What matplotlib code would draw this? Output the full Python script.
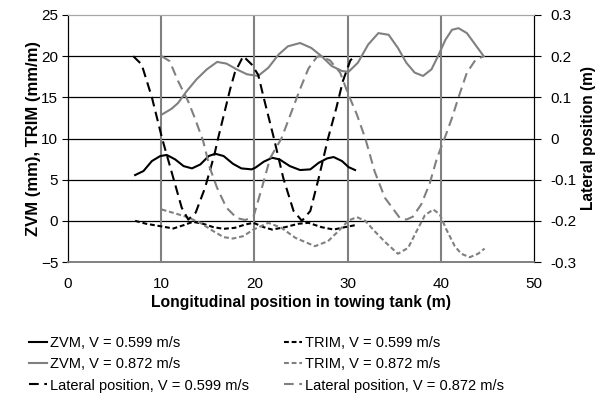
import matplotlib
matplotlib.use("Agg")
import matplotlib.pyplot as plt

plt.rcParams['font.family'] = ['Liberation Sans', 'DejaVu Sans']
plt.rcParams['lines.scale_dashes'] = False

# ZVM and TRIM (left axis)
zvm1_x = [7.2, 8.1, 9.0, 9.9, 10.6, 11.5, 12.4, 13.3, 14.2, 15.1, 15.8, 16.7, 17.7, 18.6, 19.7,
          20.1, 21.0, 21.9, 22.7, 23.8, 24.9, 26.0, 26.9, 27.8, 28.5, 29.4, 30.1, 30.8]
zvm1_y = [5.56, 6.05, 7.26, 7.87, 8.0, 7.46, 6.65, 6.37, 6.85, 7.87, 8.15, 7.87, 6.93, 6.37, 6.25,
          6.45, 7.18, 7.66, 7.46, 6.65, 6.17, 6.25, 7.05, 7.58, 7.75, 7.26, 6.53, 6.17]

zvm2_x = [10.05, 11.1, 11.8, 12.7, 13.8, 14.9, 16.0, 17.0, 18.1, 19.2, 20.4, 21.5, 22.6, 23.6,
          24.9, 26.1, 27.2, 28.3, 29.4, 30.1, 31.1, 32.2, 33.3, 34.4, 35.4, 36.3, 37.2, 38.1,
          39.0, 39.7, 40.5, 41.2, 41.9, 42.8, 43.7, 44.6]
zvm2_y = [12.9, 13.6, 14.3, 15.7, 17.2, 18.4, 19.3, 19.1, 18.4, 17.8, 17.6, 18.6, 20.2, 21.2,
          21.6, 21.0, 20.0, 18.8, 18.2, 18.1, 19.2, 21.4, 22.8, 22.6, 21.0, 19.2, 18.0, 17.6,
          18.4, 20.0, 22.0, 23.2, 23.4, 22.8, 21.4, 20.0]

trim1_x = [7.2, 8.4, 9.9, 11.3, 12.4, 13.4, 14.5, 15.6, 16.7, 17.9, 19.0, 19.9, 21.0, 21.9,
           23.3, 24.7, 25.8, 27.2, 28.5, 29.7, 30.8]
trim1_y = [0.0, -0.36, -0.65, -0.93, -0.53, -0.12, -0.36, -0.77, -0.97, -0.85, -0.45, -0.24,
           -0.77, -1.06, -0.77, -0.36, -0.24, -0.77, -1.06, -0.77, -0.53]

trim2_x = [10.05, 11.3, 12.7, 14.2, 15.6, 16.7, 17.7, 18.8, 19.9, 21.5, 22.9, 24.4, 26.5, 27.9,
           29.0, 30.1, 31.0, 31.9, 32.9, 34.0, 35.4, 36.5, 37.4, 38.3, 39.2, 39.9, 40.6, 41.5,
           42.2, 43.1, 44.0, 44.7]
trim2_y = [1.38, 0.97, 0.49, -0.24, -1.26, -1.98, -2.15, -1.86, -1.06, -0.24, -0.85, -2.07,
           -3.08, -2.47, -1.26, 0.04, 0.45, 0.0, -1.26, -2.55, -4.0, -3.28, -1.26, 0.69, 1.38,
           0.77, -1.06, -3.08, -4.0, -4.42, -4.0, -3.37]

# Lateral position (right axis)
lat1_x = [7.0, 7.9, 9.0, 10.1, 11.3, 12.2, 12.9, 13.7, 14.7, 15.7, 16.1, 17.4, 17.9, 18.8, 19.7,
          20.4, 21.1, 22.1, 23.1, 24.2, 25.1, 26.0, 26.9, 27.9, 28.8, 29.5, 30.3, 30.8]
lat1_y = [0.20, 0.18, 0.10, 0.0, -0.096, -0.168, -0.197, -0.18, -0.12, -0.04, 0.0, 0.12, 0.16,
          0.20, 0.18, 0.155, 0.09, 0.0, -0.096, -0.176, -0.20, -0.176, -0.096, 0.0, 0.075, 0.14,
          0.19, 0.20]

lat2_x = [10.05, 10.9, 11.8, 12.9, 13.6, 14.5, 15.2, 16.0, 17.0, 18.1, 19.0, 19.9, 20.8, 21.7,
          22.9, 24.0, 24.9, 25.8, 26.7, 27.0, 28.1, 29.2, 30.1, 31.0, 31.9, 32.9, 34.0, 35.6,
          36.3, 37.0, 37.9, 38.8, 39.6, 40.4, 41.2, 41.9, 42.8, 43.7, 44.6]
lat2_y = [0.20, 0.188, 0.14, 0.09, 0.05, -0.006, -0.07, -0.12, -0.168, -0.193, -0.198, -0.19,
          -0.12, -0.047, 0.0, 0.066, 0.12, 0.17, 0.198, 0.20, 0.19, 0.16, 0.106, 0.058, 0.0,
          -0.08, -0.144, -0.193, -0.197, -0.19, -0.16, -0.11, -0.047, 0.0, 0.05, 0.10, 0.16,
          0.19, 0.20]

labels = ['ZVM, V = 0.599 m/s', 'ZVM, V = 0.872 m/s', 'Lateral position, V = 0.599 m/s',
          'TRIM, V = 0.599 m/s', 'TRIM, V = 0.872 m/s', 'Lateral position, V = 0.872 m/s']

black = '#000000'
grey = '#808080'
short_dash = (3.5, 2.0)
long_dash = (7.0, 4.0)

fig = plt.figure(figsize=(6.08, 3.99), dpi=100)
ax = fig.add_axes([68 / 608, 1 - 262 / 399, 466 / 608, 247 / 399])
ax2 = ax.twinx()

l1, = ax.plot(zvm1_x, zvm1_y, color=black, lw=1.5)
l2, = ax.plot(zvm2_x, zvm2_y, color=grey, lw=1.5)
l4, = ax.plot(trim1_x, trim1_y, color=black, lw=1.5, dashes=short_dash)
l5, = ax.plot(trim2_x, trim2_y, color=grey, lw=1.5, dashes=short_dash)
l3, = ax2.plot(lat1_x, lat1_y, color=black, lw=1.5, dashes=long_dash)
l6, = ax2.plot(lat2_x, lat2_y, color=grey, lw=1.5, dashes=long_dash)

ax.set_xlim(0, 50)
ax.set_ylim(-5, 25)
ax2.set_ylim(-0.3, 0.3)
ax.set_xticks(range(0, 51, 10))
ax.set_yticks(range(-5, 26, 5))
ax2.set_yticks([-0.3, -0.2, -0.1, 0, 0.1, 0.2, 0.3])
ax2.set_yticklabels(['-0.3', '-0.2', '-0.1', '0', '0.1', '0.2', '0.3'])

for y in range(0, 21, 5):
    ax.axhline(y, color=black, lw=0.9, zorder=0.5)
for x in range(10, 41, 10):
    ax.axvline(x, color=grey, lw=1.5, zorder=0.5)

for a in (ax, ax2):
    a.spines['top'].set_color('#a6a6a6')
    a.spines['bottom'].set_color(grey)
    a.spines['bottom'].set_linewidth(1.2)
    a.spines['left'].set_color(black)
    a.spines['right'].set_color(black)

ax.tick_params(axis='x', length=0, pad=11, labelsize=11)
ax.tick_params(axis='y', length=4, width=0.8, pad=3, labelsize=11)
ax2.tick_params(axis='y', length=5, width=0.8, pad=7, labelsize=11)

ax.set_xlabel('Longitudinal position in towing tank (m)', fontsize=11.3, fontweight='bold', labelpad=3)
ax.set_ylabel('ZVM (mm), TRIM (mm/m)', fontsize=12, fontweight='bold', labelpad=0)
ax2.set_ylabel('Lateral position (m)', fontsize=11.2, fontweight='bold', labelpad=3)

ax2.set_zorder(ax.get_zorder() + 1)

leg_kw = dict(loc='upper left', frameon=False, fontsize=10.5, handlelength=1.2,
              handletextpad=0.25, labelspacing=0.5, borderpad=0, borderaxespad=0)
fig.legend([l1, l2, l3], labels[:3], bbox_to_anchor=(29 / 608, 1 - 336 / 399), **leg_kw)
fig.legend([l4, l5, l6], labels[3:], bbox_to_anchor=(284 / 608, 1 - 336 / 399), **leg_kw)

fig.savefig('out.png', dpi=100)
